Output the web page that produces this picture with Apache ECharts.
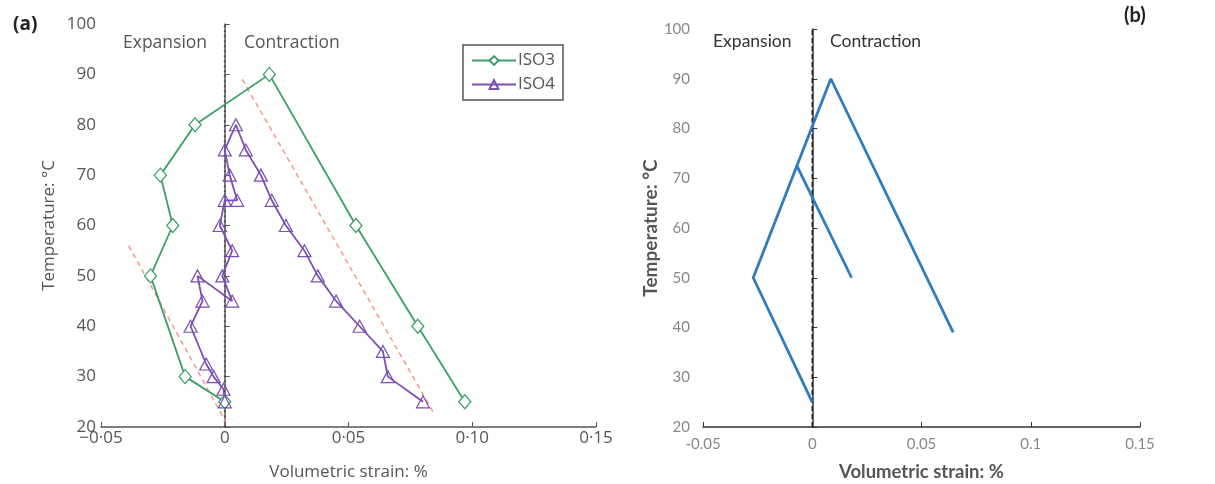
<!DOCTYPE html>
<html>
<head>
<meta charset="utf-8">
<script src="https://cdn.jsdelivr.net/npm/echarts@6/dist/echarts.min.js"></script>
<style>html,body{margin:0;padding:0;background:#fff;}#c{width:1215px;height:484px;}</style>
</head>
<body>
<div id="c"></div>
<script>
// ---- Panel (a) data ----
const iso3 = [[0.000,25],[-0.016,30],[-0.030,50],[-0.021,60],[-0.026,70],[-0.012,80],[0.018,90],[0.053,60],[0.078,40],[0.097,25]];
const iso4 = [[0.000,25],[-0.0005,27.5],[-0.0045,30],[-0.0075,32.5],[-0.0138,40],[-0.009,45],[-0.011,50],[0.003,45],[-0.001,50],[0.003,55],[-0.002,60],[0.000,65],[0.005,65],[0.002,70],[0.000,75],[0.0045,80],[0.0085,75],[0.0146,70],[0.019,65],[0.0247,60],[0.0322,55],[0.0376,50],[0.045,45],[0.0545,40],[0.0639,35],[0.0659,30],[0.0801,25]];
const trendA1 = [[0.0071,89],[0.0842,23]];
const trendA2 = [[-0.0388,56],[0.0004,21]];
const zeroLine = [[0,20],[0,100]];
// ---- Panel (b) data ----
const modelMain = [[0.000,25],[-0.027,50],[0.0085,90],[0.0645,39]];
const modelBranch = [[-0.007,72.5],[0.018,50]];
// ---- ticks ----
const xTicks = [-0.05,0,0.05,0.10,0.15];
const yTicks = [20,30,40,50,60,70,80,90,100];

const cGreen = '#3a9f68', cPurple = '#7b4eb3', cRed = '#f29a8a', cBlue = '#2f7cc0';
const fA = '"Open Sans", "Noto Sans", sans-serif';
const fB = 'Lato, "Liberation Sans", sans-serif';

function fmtA(v){
  if (Math.abs(v) < 1e-9) return '0';
  return (v<0?'\u22120':'0') + '\u00b7' + Math.round(Math.abs(v)*100).toString().padStart(2,'0');
}
function fmtB(v){
  if (Math.abs(v) < 1e-9) return '0';
  return String(Math.round(v*100)/100);
}

const chart = echarts.init(document.getElementById('c'), null, {renderer:'canvas'});
chart.setOption({
  animation:false,
  grid:[
    {left:101, top:24, width:495, height:403, outerBoundsMode:'none', containLabel:false},
    {left:703, top:29, width:437, height:398, outerBoundsMode:'none', containLabel:false}
  ],
  xAxis:[
    {type:'value', gridIndex:0, min:xTicks[0], max:xTicks[xTicks.length-1], interval:0.05,
     axisLine:{show:true, onZero:false, lineStyle:{color:'#555', width:1.5}},
     axisTick:{show:true, inside:true, length:5, lineStyle:{color:'#555'}},
     axisLabel:{fontFamily:fA, color:'#555', fontSize:17, margin:3, formatter:fmtA},
     splitLine:{show:false},
     name:'Volumetric strain: %', nameLocation:'middle', nameGap:37,
     nameTextStyle:{fontFamily:fA, color:'#555', fontSize:17, padding:[0,0,0,0]}},
    {type:'value', gridIndex:1, min:xTicks[0], max:xTicks[xTicks.length-1], interval:0.05,
     axisLine:{show:true, onZero:false, lineStyle:{color:'#333', width:1.5}},
     axisTick:{show:true, inside:true, length:5, lineStyle:{color:'#333'}},
     axisLabel:{fontFamily:fB, color:'#888', fontSize:15, margin:10, formatter:fmtB},
     splitLine:{show:false},
     name:'Volumetric strain: %', nameLocation:'middle', nameGap:36,
     nameTextStyle:{fontFamily:fB, color:'#555', fontSize:18.5, fontWeight:'bold'}}
  ],
  yAxis:[
    {type:'value', gridIndex:0, min:yTicks[0], max:yTicks[yTicks.length-1], interval:10,
     axisLine:{show:true, lineStyle:{color:'#555', width:1.5}},
     axisTick:{show:true, inside:true, length:5, lineStyle:{color:'#555'}},
     axisLabel:{fontFamily:fA, color:'#555', fontSize:17, margin:5},
     splitLine:{show:false},
     name:'Temperature: \u00b0C', nameLocation:'middle', nameGap:43, nameRotate:90,
     nameTextStyle:{fontFamily:fA, color:'#555', fontSize:17}},
    {type:'value', gridIndex:1, min:yTicks[0], max:yTicks[yTicks.length-1], interval:10,
     axisLine:{show:true, lineStyle:{color:'#333', width:1.5}},
     axisTick:{show:true, inside:true, length:5, lineStyle:{color:'#333'}},
     axisLabel:{fontFamily:fB, color:'#888', fontSize:15, margin:13},
     splitLine:{show:false},
     name:'Temperature: \u00b0C', nameLocation:'middle', nameGap:40, nameRotate:90,
     nameTextStyle:{fontFamily:fB, color:'#555', fontSize:19, fontWeight:'bold'}}
  ],
  legend:{
    data:['ISO3','ISO4'], orient:'vertical', left:463, top:45,
    borderColor:'#555', borderWidth:1.5, padding:[7,8,7,8], itemGap:7,
    itemWidth:44, itemHeight:11,
    textStyle:{fontFamily:fA, color:'#555', fontSize:17, padding:[0,0,0,-3]}
  },
  graphic:[
    {type:'text', left:13, top:15, style:{text:'(a)', font:'bold 19px "Open Sans", sans-serif', fill:'#222'}},
    {type:'text', left:123, top:34, style:{text:'Expansion', font:'17.5px "Open Sans", sans-serif', fill:'#555'}},
    {type:'text', left:244, top:34, style:{text:'Contraction', font:'17.5px "Open Sans", sans-serif', fill:'#555'}},
    {type:'text', left:1124, top:6, style:{text:'(b)', font:'bold 20px Lato, sans-serif', fill:'#222'}},
    {type:'text', left:713, top:32, style:{text:'Expansion', font:'17.5px Lato, sans-serif', fill:'#333'}},
    {type:'text', left:830, top:32, style:{text:'Contraction', font:'17.5px Lato, sans-serif', fill:'#333'}}
  ],
  series:[
    {name:'zeroA', type:'line', xAxisIndex:0, yAxisIndex:0, data:zeroLine, symbol:'none', silent:true,
     lineStyle:{color:'#444', width:1.8, type:[1.5,3.5]}},
    {name:'trend1', type:'line', xAxisIndex:0, yAxisIndex:0, data:trendA1, symbol:'none', silent:true,
     lineStyle:{color:cRed, width:1.5, type:[5,4]}},
    {name:'trend2', type:'line', xAxisIndex:0, yAxisIndex:0, data:trendA2, symbol:'none', silent:true,
     lineStyle:{color:cRed, width:1.5, type:[5,4]}},
    {name:'ISO3', type:'line', xAxisIndex:0, yAxisIndex:0, data:iso3, symbol:'diamond', symbolSize:[12,14],
     lineStyle:{color:cGreen, width:1.8}, itemStyle:{color:'#fff', borderColor:cGreen, borderWidth:1.3}},
    {name:'ISO4', type:'line', xAxisIndex:0, yAxisIndex:0, data:iso4, symbol:'triangle', symbolSize:[13,12],
     lineStyle:{color:cPurple, width:1.8}, itemStyle:{color:'rgba(255,255,255,0)', borderColor:cPurple, borderWidth:1.2}},
    {name:'zeroB', type:'line', xAxisIndex:1, yAxisIndex:1, data:zeroLine, symbol:'none', silent:true,
     lineStyle:{color:'#222', width:1.5, type:[5,3]}},
    {name:'modelMain', type:'line', xAxisIndex:1, yAxisIndex:1, data:modelMain, symbol:'none',
     lineStyle:{color:cBlue, width:2.8}},
    {name:'modelBranch', type:'line', xAxisIndex:1, yAxisIndex:1, data:modelBranch, symbol:'none',
     lineStyle:{color:cBlue, width:2.8}}
  ]
});
</script>
</body>
</html>
